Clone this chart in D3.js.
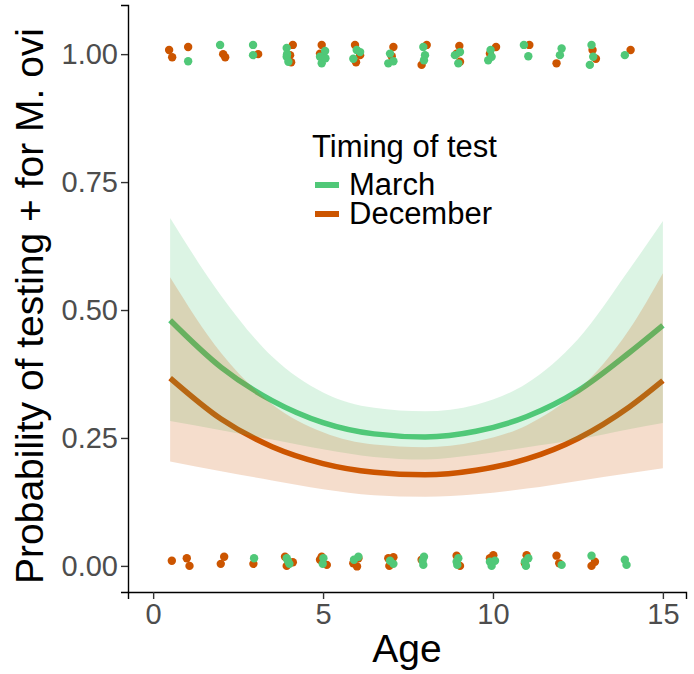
<!DOCTYPE html>
<html>
<head>
<meta charset="utf-8">
<script src="https://cdn.jsdelivr.net/npm/d3@7"></script>
<style>
  body { margin: 0; background: #fff; }
  svg { font-family: "Liberation Sans", Arial, sans-serif; }
</style>
</head>
<body>
<svg id="chart" width="694" height="674"></svg>
<script>
// fitted curves
const ages = [0.5, 2, 3.5, 5, 6.5, 8, 9.5, 11, 12.5, 14, 15];
const marchFit   = [0.480, 0.388, 0.323, 0.280, 0.258, 0.252, 0.263, 0.292, 0.342, 0.416, 0.470];
const marchLow   = [0.283, 0.265, 0.247, 0.228, 0.213, 0.208, 0.217, 0.232, 0.247, 0.267, 0.279];
const marchHigh  = [0.680, 0.528, 0.409, 0.339, 0.309, 0.302, 0.315, 0.357, 0.443, 0.578, 0.674];
const decFit     = [0.367, 0.287, 0.233, 0.200, 0.183, 0.178, 0.187, 0.209, 0.249, 0.310, 0.362];
const decLow     = [0.204, 0.185, 0.167, 0.150, 0.138, 0.135, 0.140, 0.151, 0.166, 0.181, 0.191];
const decHigh    = [0.564, 0.416, 0.316, 0.261, 0.237, 0.232, 0.243, 0.275, 0.343, 0.461, 0.572];

// jittered observations [age, result]
const marchPts = [
  [1.03,0.986],[1.97,1.018],[2.94,1.018],[2.94,0.998],[3.93,1.012],[3.93,0.995],[3.98,0.985],[3.94,1.0],
  [5.06,1.006],[4.91,0.995],[4.96,0.982],[5.07,0.992],[5.99,1.008],[5.89,0.991],[6.09,1.004],
  [6.97,1.001],[6.92,0.982],[7.07,0.986],[7.95,1.014],[8.0,0.998],[7.97,0.988],[8.88,0.998],[8.98,0.982],[9.03,1.004],
  [9.93,1.008],[9.86,0.988],[9.96,0.995],[10.91,1.018],[11.04,0.996],[12.02,1.011],[11.97,0.998],
  [12.9,1.018],[12.95,0.995],[12.85,0.979],[13.88,0.998],
  [2.97,0.015],[3.93,0.015],[4.01,0.004],[3.97,0.009],[5.01,0.015],[4.99,0.004],[6.04,0.018],[5.91,0.012],
  [7.07,0.004],[6.97,0.010],[7.93,0.010],[7.97,0.018],[7.95,0.002],[8.93,0.008],[8.98,0.015],[8.95,0.002],
  [9.91,0.008],[9.96,0.0],[10.06,0.010],[10.94,0.008],[11.04,0.015],[10.97,0.0],[12.02,0.002],
  [12.9,0.02],[13.88,0.012],[13.93,0.002]
];
const decPts = [
  [0.47,1.008],[0.56,0.994],[1.03,1.014],[2.06,1.0],[2.12,0.994],[3.09,1.0],[4.11,1.018],[4.03,0.998],[4.06,0.984],
  [4.96,1.018],[4.91,1.001],[5.94,1.018],[6.09,0.998],[5.97,0.984],[7.07,1.014],[7.02,0.996],
  [8.05,1.018],[7.9,0.979],[9.01,1.016],[8.93,1.001],[9.03,0.985],[10.09,1.014],[9.91,1.001],
  [11.07,1.018],[11.87,0.982],[12.93,1.008],[13.03,0.991],[14.05,1.008],
  [0.55,0.010],[0.99,0.015],[1.07,0.0],[2.09,0.018],[1.99,0.004],[2.95,0.004],[3.88,0.018],[3.93,0.0],[4.11,0.007],
  [4.91,0.012],[5.11,0.002],[4.96,0.018],[5.89,0.005],[6.04,0.015],[6.0,-0.001],[6.92,0.015],[6.95,0.0],[7.07,0.017],
  [7.9,0.012],[8.93,0.02],[9.03,0.0],[10.01,0.021],[9.91,0.015],[10.99,0.021],[10.94,0.005],
  [11.87,0.02],[11.95,0.005],[13.0,0.008],[12.9,0.0]
];

const xTicks = [0, 5, 10, 15];
const yTicks = [0, 0.25, 0.5, 0.75, 1];
const groups = ["March", "December"];
const colors = { March: "#50C878", December: "#CC5500" };

const svg = d3.select("#chart");
const margin = { left: 128, right: 8, top: 5, bottom: 82 };
const W = 694, H = 674;

const x = d3.scaleLinear().domain([-0.74, 15.68]).range([margin.left, W - margin.right]);
const y = d3.scaleLinear().domain([-0.051, 1.096]).range([H - margin.bottom, margin.top]);

const series = [
  { name: "March", fit: marchFit, low: marchLow, high: marchHigh },
  { name: "December", fit: decFit, low: decLow, high: decHigh }
];

const line = d3.line().x(d => x(d[0])).y(d => y(d[1])).curve(d3.curveMonotoneX);
const area = d3.area().x(d => x(d[0])).y0(d => y(d[1])).y1(d => y(d[2])).curve(d3.curveMonotoneX);

// points
svg.append("g").selectAll("circle")
  .data(decPts.map(p => ["December", p]).concat(marchPts.map(p => ["March", p])))
  .join("circle")
  .attr("cx", d => x(d[1][0]))
  .attr("cy", d => y(d[1][1]))
  .attr("r", 4.2)
  .attr("fill", d => colors[d[0]]);

// lines drawn first, ribbons on top (that is how the overlap tints them)
series.forEach(s => {
  svg.append("path")
    .attr("d", line(ages.map((a, i) => [a, s.fit[i]])))
    .attr("fill", "none")
    .attr("stroke", colors[s.name])
    .attr("stroke-width", 5.5);
});
series.forEach(s => {
  svg.append("path")
    .attr("d", area(ages.map((a, i) => [a, s.low[i], s.high[i]])))
    .attr("fill", colors[s.name])
    .attr("fill-opacity", 0.2);
});

// axes
const xAxis = svg.append("g")
  .attr("transform", `translate(0,${H - margin.bottom})`)
  .call(d3.axisBottom(x).tickValues(xTicks).tickSize(7).tickPadding(4).tickFormat(d3.format("d")));
const yAxis = svg.append("g")
  .attr("transform", `translate(${margin.left},0)`)
  .call(d3.axisLeft(y).tickValues(yTicks).tickSize(7).tickPadding(3).tickFormat(d3.format(".2f")));

[xAxis, yAxis].forEach(g => {
  g.select(".domain").attr("stroke", "#000").attr("stroke-width", 1.4);
  g.selectAll(".tick line").attr("stroke", "#333").attr("stroke-width", 1.4);
  g.selectAll(".tick text").attr("fill", "#4d4d4d").attr("font-size", 29);
});

svg.append("text")
  .attr("x", (margin.left + W - margin.right) / 2)
  .attr("y", 662)
  .attr("text-anchor", "middle")
  .attr("font-size", 39)
  .text("Age");

svg.append("text")
  .attr("transform", "translate(43,306) rotate(-90)")
  .attr("text-anchor", "middle")
  .attr("font-size", 39)
  .text("Probability of testing + for M. ovi");

// legend
const legend = svg.append("g").attr("transform", "translate(312,157)");
legend.append("text").attr("font-size", 31).text("Timing of test");
groups.forEach((g, i) => {
  legend.append("line")
    .attr("x1", 3).attr("x2", 27)
    .attr("y1", 28 + i * 29).attr("y2", 28 + i * 29)
    .attr("stroke", colors[g]).attr("stroke-width", 6);
  legend.append("text")
    .attr("x", 37).attr("y", 38 + i * 29)
    .attr("font-size", 31)
    .text(g);
});
</script>
</body>
</html>
